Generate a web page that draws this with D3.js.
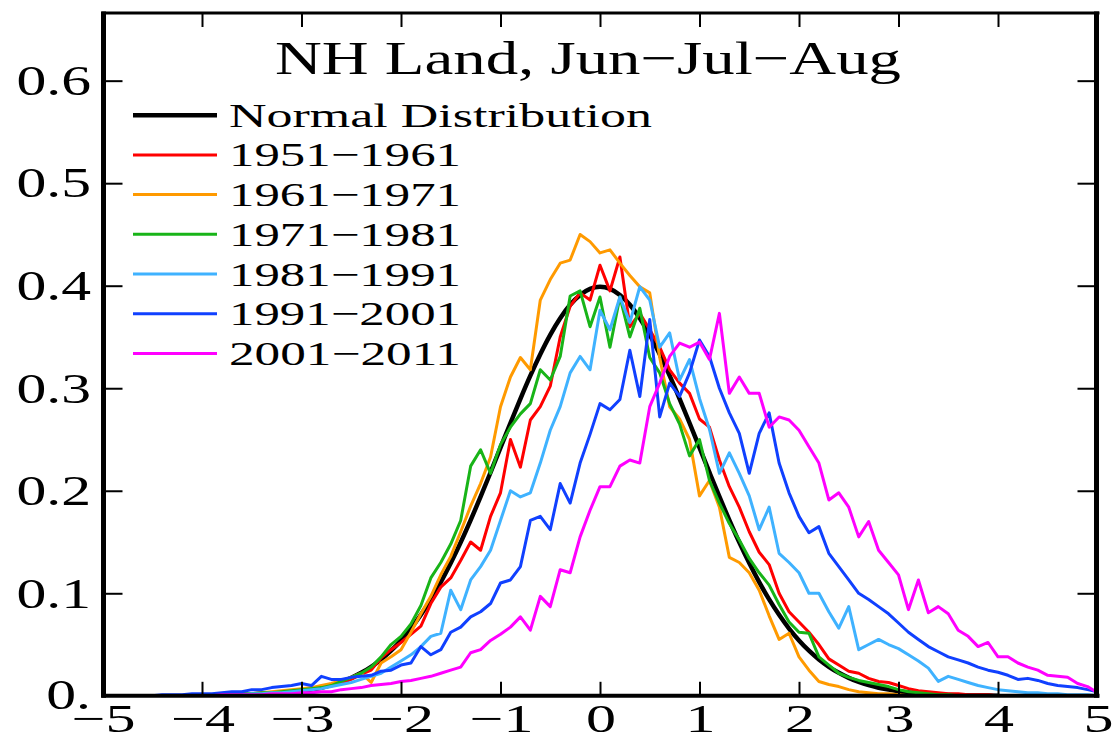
<!DOCTYPE html>
<html>
<head>
<meta charset="utf-8">
<script src="https://cdn.jsdelivr.net/npm/d3@7"></script>
<style>
  html, body { margin: 0; padding: 0; background: #fff; }
  svg { display: block; }
  text { font-family: "Liberation Serif", "Times New Roman", serif; fill: #000; }
</style>
</head>
<body>
<svg id="chart" width="1113" height="741"></svg>
<script>
// ---------------- DATA ----------------
const chartTitle = "NH Land, Jun\u2212Jul\u2212Aug";
const xTicks = [-5, -4, -3, -2, -1, 0, 1, 2, 3, 4, 5];
const xTickLabels = ["\u22125", "\u22124", "\u22123", "\u22122", "\u22121", "0", "1", "2", "3", "4", "5"];
const yTicks = [0, 0.1, 0.2, 0.3, 0.4, 0.5, 0.6];
const yTickLabels = ["0.", "0.1", "0.2", "0.3", "0.4", "0.5", "0.6"];

const seriesNames = ["Normal Distribution", "1951\u22121961", "1961\u22121971", "1971\u22121981",
                     "1981\u22121991", "1991\u22122001", "2001\u22122011"];

// Normal distribution, x from -4.0 to 4.0 step 0.1
const normalStart = -4.0;
const normalValues = [
  0.0001,0.0002,0.0003,0.0004,0.0006,0.0009,0.0012,0.0017,0.0024,0.0033,
  0.0044,0.0060,0.0079,0.0104,0.0136,0.0175,0.0224,0.0283,0.0355,0.0440,
  0.0540,0.0656,0.0790,0.0940,0.1109,0.1295,0.1497,0.1714,0.1942,0.2179,
  0.2420,0.2661,0.2897,0.3123,0.3332,0.3521,0.3683,0.3814,0.3910,0.3970,
  0.3989,
  0.3970,0.3910,0.3814,0.3683,0.3521,0.3332,0.3123,0.2897,0.2661,0.2420,
  0.2179,0.1942,0.1714,0.1497,0.1295,0.1109,0.0940,0.0790,0.0656,0.0540,
  0.0440,0.0355,0.0283,0.0224,0.0175,0.0136,0.0104,0.0079,0.0060,0.0044,
  0.0033,0.0024,0.0017,0.0012,0.0009,0.0006,0.0004,0.0003,0.0002,0.0001
];

// Decadal histograms, x from -4.5 to 5.0 step 0.1
const decadeStart = -4.5;
const values1951 = [
  0,0,0,0,0,0.001,0.001,0.001,0.001,0.002,0.002,0.003,0.003,0.004,0.005,
  0.006,0.007,0.009,0.010,0.013,0.016,0.021,0.025,0.037,0.045,
  0.052,0.060,0.068,0.090,0.106,0.115,0.132,0.150,0.142,0.175,
  0.198,0.250,0.223,0.269,0.282,0.302,0.350,0.380,0.393,0.386,
  0.420,0.395,0.428,0.360,0.373,0.357,0.340,0.318,0.305,0.295,
  0.270,0.262,0.230,0.204,0.184,0.160,0.140,0.128,0.100,0.082,
  0.072,0.062,0.050,0.036,0.030,0.024,0.022,0.017,0.014,0.013,
  0.010,0.007,0.005,0.004,0.003,0.002,0.002,0.001,0.001,0.001,
  0,0,0,0,0,0,0,0,0,0,0
];
const values1961 = [
  0,0,0,0,0,0,0.001,0.001,0.001,0.002,0.002,0.003,0.004,0.005,0.006,
  0.007,0.008,0.010,0.012,0.015,0.018,0.022,0.013,0.032,0.038,
  0.045,0.062,0.080,0.097,0.118,0.136,0.160,0.185,0.207,0.233,
  0.282,0.311,0.330,0.318,0.386,0.406,0.422,0.425,0.450,0.443,
  0.432,0.435,0.422,0.410,0.399,0.393,0.330,0.282,0.270,0.250,
  0.195,0.210,0.184,0.135,0.130,0.120,0.103,0.078,0.055,0.061,
  0.038,0.025,0.014,0.011,0.009,0.006,0.004,0.003,0.002,0.002,
  0.001,0,0,0,0,0,0,0,0,0,
  0,0,0,0,0,0,0,0,0,0,0
];
const values1971 = [
  0,0,0,0,0,0.001,0.001,0.001,0.001,0.002,0.002,0.003,0.003,0.004,0.005,
  0.006,0.007,0.008,0.010,0.014,0.018,0.022,0.028,0.038,0.050,
  0.058,0.070,0.088,0.115,0.130,0.148,0.171,0.224,0.240,0.217,
  0.245,0.262,0.275,0.285,0.318,0.308,0.331,0.390,0.395,0.360,
  0.389,0.340,0.389,0.350,0.378,0.330,0.315,0.285,0.265,0.234,
  0.250,0.210,0.188,0.168,0.152,0.134,0.120,0.108,0.089,0.072,
  0.062,0.061,0.038,0.030,0.022,0.018,0.015,0.013,0.011,0.009,
  0.006,0.004,0.003,0.002,0.001,0.001,0,0,0,0,
  0,0,0,0,0,0,0,0,0,0,0
];
const values1981 = [
  0,0,0,0,0,0.001,0.001,0.001,0.001,0.001,0.002,0.002,0.003,0.003,0.004,
  0.005,0.006,0.007,0.009,0.011,0.013,0.016,0.019,0.022,0.028,
  0.034,0.040,0.048,0.058,0.061,0.103,0.084,0.113,0.126,0.142,
  0.171,0.200,0.194,0.198,0.227,0.259,0.282,0.315,0.331,0.318,
  0.376,0.357,0.389,0.364,0.399,0.386,0.340,0.354,0.308,0.328,
  0.290,0.260,0.217,0.237,0.217,0.195,0.162,0.184,0.139,0.130,
  0.120,0.100,0.100,0.082,0.066,0.087,0.045,0.050,0.055,0.050,
  0.046,0.040,0.034,0.027,0.014,0.019,0.016,0.013,0.010,0.008,
  0.006,0.005,0.004,0.003,0.003,0.002,0.002,0.001,0.001,0.001,0
];
const values1991 = [
  0.000,0.001,0.001,0.001,0.002,0.002,0.002,0.003,0.004,0.004,0.006,0.006,0.008,0.009,0.010,
  0.012,0.010,0.019,0.016,0.016,0.018,0.019,0.020,0.024,0.025,
  0.030,0.032,0.048,0.040,0.045,0.062,0.067,0.077,0.082,0.090,
  0.110,0.113,0.126,0.171,0.175,0.162,0.207,0.188,0.227,0.255,
  0.285,0.279,0.289,0.337,0.292,0.367,0.272,0.305,0.292,0.315,
  0.347,0.331,0.300,0.276,0.256,0.217,0.256,0.276,0.227,0.198,
  0.175,0.159,0.165,0.139,0.126,0.113,0.100,0.094,0.087,0.080,
  0.071,0.062,0.055,0.048,0.043,0.038,0.035,0.032,0.028,0.025,
  0.023,0.020,0.016,0.017,0.015,0.012,0.010,0.009,0.008,0.006,0.004
];
const values2001 = [
  0,0,0,0,0,0,0,0.001,0.001,0.001,0.001,0.001,0.002,0.002,0.002,
  0.003,0.003,0.004,0.004,0.006,0.007,0.008,0.010,0.011,0.012,
  0.014,0.015,0.017,0.019,0.022,0.025,0.028,0.042,0.045,0.054,
  0.060,0.067,0.077,0.064,0.097,0.087,0.123,0.120,0.155,0.181,
  0.204,0.204,0.224,0.230,0.227,0.282,0.305,0.331,0.344,0.340,
  0.345,0.328,0.373,0.295,0.311,0.295,0.295,0.262,0.272,0.269,
  0.259,0.243,0.227,0.191,0.198,0.184,0.155,0.170,0.142,0.130,
  0.118,0.084,0.113,0.081,0.087,0.080,0.064,0.058,0.048,0.052,
  0.038,0.038,0.032,0.028,0.025,0.020,0.019,0.018,0.012,0.009,0.003
];

// ---------------- STYLE ----------------
const seriesColors = ["#000000", "#ff0000", "#ff9a00", "#18b418", "#3fb2ff", "#1040ff", "#ff00ff"];
const seriesWidths = [4.5, 3, 3, 3, 3, 3, 3];

// ---------------- LAYOUT ----------------
const svg = d3.select("#chart");
const W = 1113, H = 741;
const plotLeft = 102.5, plotRight = 1097.5, plotTop = 13, plotBottom = 695.8;
const yTopValue = 0.666;

svg.append("rect").attr("width", W).attr("height", H).attr("fill", "#fff");

const x = d3.scaleLinear().domain([-5, 5]).range([plotLeft, plotRight]);
const y = d3.scaleLinear().domain([0, yTopValue]).range([plotBottom, plotTop]);

svg.append("clipPath").attr("id", "plotClip")
  .append("rect").attr("x", plotLeft).attr("y", plotTop)
  .attr("width", plotRight - plotLeft).attr("height", plotBottom - plotTop);

function toPoints(start, vals) {
  return vals.map((v, i) => ({ x: +(start + i * 0.1).toFixed(2), y: v }));
}

const allSeries = [
  toPoints(normalStart, normalValues),
  toPoints(decadeStart, values1951),
  toPoints(decadeStart, values1961),
  toPoints(decadeStart, values1971),
  toPoints(decadeStart, values1981),
  toPoints(decadeStart, values1991),
  toPoints(decadeStart, values2001)
];

const gLines = svg.append("g").attr("clip-path", "url(#plotClip)");
allSeries.forEach((pts, i) => {
  const line = d3.line()
    .x(d => x(d.x)).y(d => y(d.y))
    .curve(i === 0 ? d3.curveMonotoneX : d3.curveLinear);
  gLines.append("path")
    .datum(pts)
    .attr("d", line)
    .attr("fill", "none")
    .attr("stroke", seriesColors[i])
    .attr("stroke-width", seriesWidths[i])
    .attr("stroke-linejoin", "round")
    .attr("stroke-linecap", "round");
});

// ---------------- AXES (ticks inward on all four sides) ----------------
const xInner = xTicks.filter(t => t > -5 && t < 5);
const yInner = yTicks.filter(t => t > 0);

const bottomAxis = d3.axisBottom(x).tickValues(xInner).tickSize(-14).tickFormat("");
const topAxis = d3.axisTop(x).tickValues(xInner).tickSize(-14).tickFormat("");
const leftAxis = d3.axisLeft(y).tickValues(yInner).tickSize(-20).tickFormat("");
const rightAxis = d3.axisRight(y).tickValues(yInner).tickSize(-20).tickFormat("");

function styleAxis(g) {
  g.select(".domain").remove();
  g.selectAll(".tick line").attr("stroke", "#000").attr("stroke-width", 2);
}
svg.append("g").attr("transform", `translate(0,${plotBottom})`).call(bottomAxis).call(styleAxis);
svg.append("g").attr("transform", `translate(0,${plotTop})`).call(topAxis).call(styleAxis);
svg.append("g").attr("transform", `translate(${plotLeft},0)`).call(leftAxis).call(styleAxis);
svg.append("g").attr("transform", `translate(${plotRight},0)`).call(rightAxis).call(styleAxis);

// frame
const frame = svg.append("g").attr("stroke", "#000").attr("fill", "none");
frame.append("line").attr("x1", plotLeft - 1).attr("x2", plotRight + 2).attr("y1", plotTop).attr("y2", plotTop).attr("stroke-width", 3);
frame.append("line").attr("x1", plotLeft - 1).attr("x2", plotRight + 2).attr("y1", plotBottom).attr("y2", plotBottom).attr("stroke-width", 4);
frame.append("line").attr("x1", plotLeft + 1).attr("x2", plotLeft + 1).attr("y1", plotTop - 1.5).attr("y2", plotBottom + 2).attr("stroke-width", 5);
frame.append("line").attr("x1", plotRight - 1).attr("x2", plotRight - 1).attr("y1", plotTop - 1.5).attr("y2", plotBottom + 2).attr("stroke-width", 5);

// stretched text helper (the reference text is horizontally widened)
function placeStretched(sel, xPos, anchor, factor, fixedWidth) {
  const natural = sel.node().getComputedTextLength();
  const w = fixedWidth || natural * factor;
  sel.attr("textLength", w).attr("lengthAdjust", "spacingAndGlyphs");
  let x0 = xPos;
  if (anchor === "end") x0 = xPos - w;
  else if (anchor === "middle") x0 = xPos - w / 2;
  sel.attr("x", x0);
}

// x tick labels
xTicks.forEach((t, i) => {
  const tx = svg.append("text")
    .attr("y", 732)
    .attr("font-size", 40)
    .text(xTickLabels[i]);
  placeStretched(tx, x(t) + 1, "middle", 1.5);
});

// y tick labels
yTicks.forEach((t, i) => {
  const ty = svg.append("text")
    .attr("y", t === 0 ? y(t) + 13 : y(t) + 14.3)
    .attr("font-size", 42)
    .text(yTickLabels[i]);
  placeStretched(ty, 91, "end", 1.42);
});

// title
const title = svg.append("text")
  .attr("y", 74)
  .attr("font-size", 47)
  .text(chartTitle);
placeStretched(title, 275, "start", 1, 626);

// legend
const legendTop = 115.2, legendStep = 39.7;
seriesNames.forEach((name, i) => {
  const ly = legendTop + i * legendStep;
  svg.append("line")
    .attr("x1", 133).attr("x2", 217)
    .attr("y1", ly).attr("y2", ly)
    .attr("stroke", seriesColors[i])
    .attr("stroke-width", seriesWidths[i]);
  const lt = svg.append("text")
    .attr("y", ly + 11.5)
    .attr("font-size", 34)
    .text(name);
  placeStretched(lt, 229, "start", 1, i === 0 ? 423 : 232);
});
</script>
</body>
</html>
